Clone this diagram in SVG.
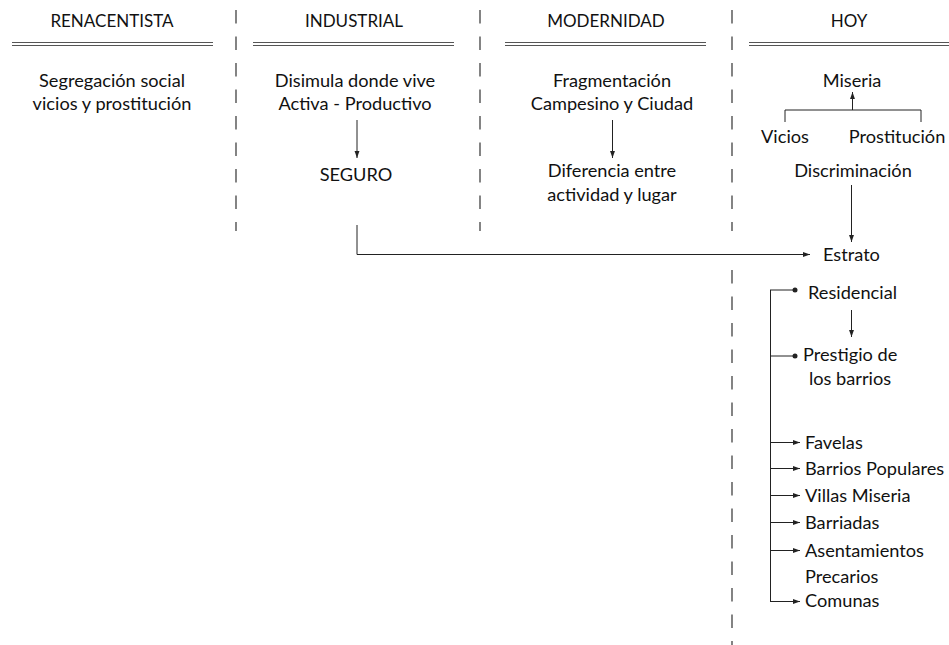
<svg xmlns="http://www.w3.org/2000/svg" width="949" height="645" viewBox="0 0 949 645">
<defs>
<style>
text{font-family:Lato,"Noto Sans",sans-serif;font-size:18.2px;fill:#111}
.h{font-size:17px}
.c{text-anchor:middle}
.dash{stroke:#333;stroke-width:1.2;stroke-dasharray:13.5 13;fill:none}
.dbl{stroke:#555;stroke-width:1.2;fill:none}
.ln{stroke:#222;stroke-width:1;fill:none}
.ar{stroke:#222;stroke-width:1;fill:none;marker-end:url(#ah)}
</style>
<marker id="ah" viewBox="0 0 10 10" refX="10" refY="5" markerWidth="7" markerHeight="7" markerUnits="userSpaceOnUse" orient="auto"><path d="M0,1.5 L10,5 L0,8.5 z" fill="#222"/></marker>
</defs>
<rect width="949" height="645" fill="#fff"/>
<g id="dividers">
<line class="dash" x1="236" y1="10" x2="236" y2="231"/>
<line class="dash" x1="480" y1="10" x2="480" y2="231"/>
<line class="dash" x1="732" y1="10" x2="732" y2="231"/>
<line class="dash" x1="732" y1="270" x2="732" y2="645"/>
</g>
<g id="headers">
<text class="c h" x="112" y="27">RENACENTISTA</text>
<text class="c h" x="354" y="27">INDUSTRIAL</text>
<text class="c h" x="606" y="27">MODERNIDAD</text>
<text class="c h" x="849" y="27">HOY</text>
<path class="dbl" d="M12,42.5H213M12,45.5H213M253,42.5H454M253,45.5H454M505,42.5H706M505,45.5H706M749,42.5H949M749,45.5H949"/>
</g>
<g id="renacentista">
<text class="c" x="112" y="87">Segregación social</text>
<text class="c" x="112" y="110">vicios y prostitución</text>
</g>
<g id="industrial">
<text class="c" x="355" y="87">Disimula donde vive</text>
<text class="c" x="355" y="110">Activa - Productivo</text>
</g>
<g id="seguro"><text class="c" x="356" y="181">SEGURO</text></g>
<g id="modernidad">
<text class="c" x="612" y="87">Fragmentación</text>
<text class="c" x="612" y="110">Campesino y Ciudad</text>
</g>
<g id="diferencia">
<text class="c" x="612" y="177">Diferencia entre</text>
<text class="c" x="612" y="201">actividad y lugar</text>
</g>
<g id="miseria"><text class="c" x="852" y="87">Miseria</text></g>
<g id="vicios"><text class="c" x="785" y="143">Vicios</text></g>
<g id="prostitucion"><text class="c" x="897" y="143">Prostitución</text></g>
<g id="discriminacion"><text class="c" x="853" y="177">Discriminación</text></g>
<g id="estrato"><text x="823" y="261">Estrato</text></g>
<g id="residencial"><text x="808" y="299">Residencial</text></g>
<g id="prestigio">
<text x="803" y="361">Prestigio de</text>
<text class="c" x="850" y="385">los barrios</text>
</g>
<g id="favelas"><text x="805" y="449">Favelas</text></g>
<g id="barrios-populares"><text x="805" y="475">Barrios Populares</text></g>
<g id="villas-miseria"><text x="805" y="502">Villas Miseria</text></g>
<g id="barriadas"><text x="805" y="529">Barriadas</text></g>
<g id="asentamientos">
<text x="805" y="557">Asentamientos</text>
<text x="805" y="583">Precarios</text>
</g>
<g id="comunas"><text x="805" y="607">Comunas</text></g>
<g id="connectors">
<line class="ar" x1="357" y1="120" x2="357" y2="158"/>
<line class="ar" x1="612.5" y1="120" x2="612.5" y2="158"/>
<line class="ar" x1="852.5" y1="110" x2="852.5" y2="92"/>
<path class="ln" d="M785,122V110H921V122"/>
<line class="ar" x1="851.5" y1="185" x2="851.5" y2="242"/>
<path class="ar" d="M357,225V254.5H810"/>
<path class="ln" d="M770.5,290V601.5H799"/>
<line class="ln" x1="770" y1="290" x2="795" y2="290"/>
<circle cx="795" cy="290" r="2.5" fill="#222"/>
<line class="ar" x1="851.5" y1="310" x2="851.5" y2="337"/>
<line class="ln" x1="770" y1="356" x2="795" y2="356"/>
<circle cx="795" cy="356" r="2.5" fill="#222"/>
<line class="ar" x1="770" y1="442.5" x2="800" y2="442.5"/>
<line class="ar" x1="770" y1="468.5" x2="800" y2="468.5"/>
<line class="ar" x1="770" y1="495.5" x2="800" y2="495.5"/>
<line class="ar" x1="770" y1="522.5" x2="800" y2="522.5"/>
<line class="ar" x1="770" y1="550.5" x2="800" y2="550.5"/>
<line class="ar" x1="770" y1="601.5" x2="800" y2="601.5"/>
</g>
</svg>
